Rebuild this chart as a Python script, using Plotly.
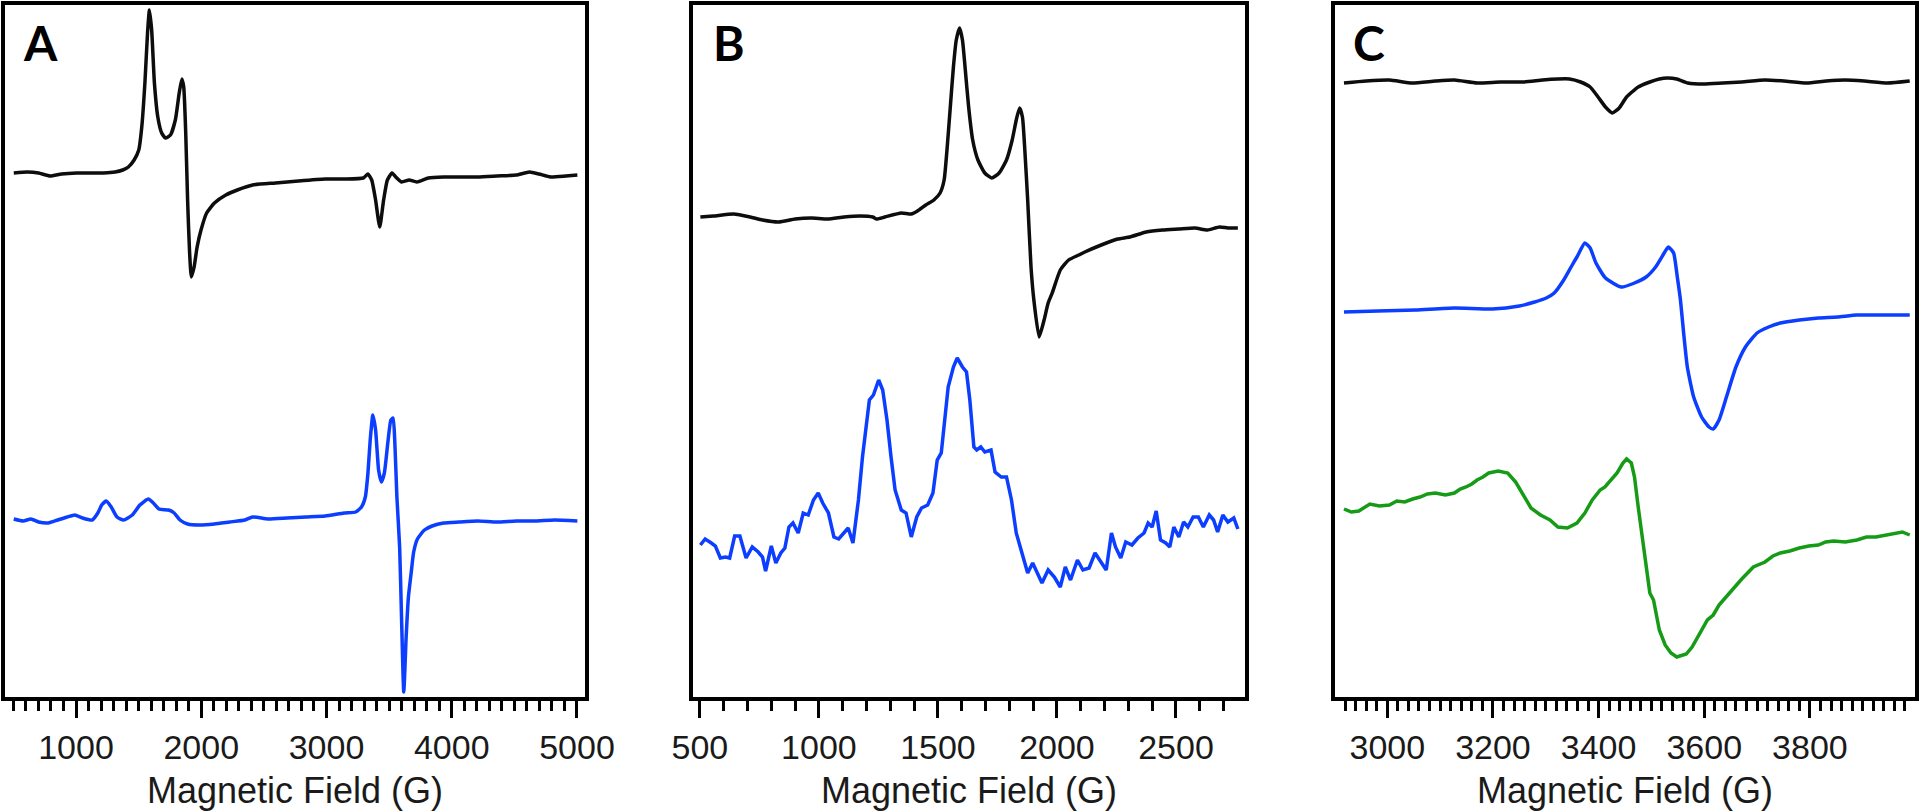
import plotly.graph_objects as go

# ---------------- Panel A (field in G, signal in arbitrary units) ----------------
a_black_field = [503, 610, 701, 793, 884, 1006, 1129, 1220, 1312, 1373, 1418, 1464, 1501, 1525,
                 1550, 1571, 1586, 1604, 1626, 1653, 1684, 1714, 1754, 1793, 1824, 1845, 1860,
                 1876, 1891, 1906, 1921, 1943, 1967, 1998, 2043, 2105, 2196, 2288, 2410, 2593,
                 2776, 2989, 3141, 3294, 3331, 3361, 3392, 3425, 3456, 3486, 3523, 3553, 3599,
                 3660, 3721, 3813, 3935, 4056, 4209, 4361, 4514, 4621, 4697, 4789, 4911, 5003]
a_black_signal = [524, 525, 524, 521, 523, 524, 524, 524, 525, 527, 530, 537, 547, 570,
                  614, 664, 687, 667, 614, 580, 564, 559, 562, 577, 604, 618, 610,
                  564, 497, 447, 420, 430, 450, 467, 484, 494, 502, 507, 512, 514,
                  516, 518, 518, 519, 523, 517, 497, 470, 497, 517, 524, 520, 515,
                  517, 515, 519, 520, 520, 520, 521, 522, 525, 523, 520, 521, 522]

a_blue_field = [503, 579, 640, 701, 778, 854, 930, 991, 1052, 1129, 1174, 1205, 1241, 1281,
                1327, 1379, 1449, 1510, 1577, 1617, 1662, 1739, 1784, 1830, 1891, 1983, 2105,
                2227, 2349, 2410, 2532, 2684, 2837, 2989, 3141, 3233, 3279, 3310, 3331, 3349,
                3370, 3392, 3416, 3438, 3462, 3492, 3514, 3532, 3547, 3562, 3584, 3599, 3617,
                3636, 3654, 3676, 3696, 3726, 3782, 3843, 3935, 4056, 4209, 4361, 4514, 4667,
                4820, 5003]
a_blue_signal = [178, 176, 178, 175, 174, 177, 180, 182, 179, 177, 184, 192, 196, 190,
                 180, 177, 182, 192, 198, 194, 188, 187, 184, 177, 173, 172, 173,
                 175, 177, 180, 178, 179, 180, 181, 184, 185, 190, 200, 224, 257,
                 282, 267, 227, 215, 224, 257, 277, 279, 250, 200, 150, 80, 5,
                 60, 100, 124, 145, 158, 167, 171, 174, 175, 176, 175, 176, 176,
                 177, 176]

# ---------------- Panel B ----------------
b_black_field = [502, 557, 642, 711, 763, 831, 900, 968, 1037, 1106, 1174, 1226, 1243, 1277,
                 1346, 1388, 1414, 1449, 1483, 1509, 1526, 1538, 1551, 1565, 1577, 1591, 1603,
                 1615, 1629, 1646, 1668, 1697, 1726, 1757, 1788, 1812, 1829, 1843, 1855, 1865,
                 1877, 1891, 1903, 1925, 1946, 1963, 1980, 2014, 2049, 2092, 2117, 2186, 2255,
                 2306, 2375, 2444, 2512, 2580, 2632, 2683, 2718, 2760]
b_black_signal = [480, 481, 483, 480, 477, 475, 478, 479, 478, 480, 481, 480, 478, 480,
                  484, 483, 486, 492, 497, 504, 517, 547, 587, 630, 657, 669, 657,
                  627, 590, 557, 537, 524, 519, 524, 537, 557, 577, 589, 580, 547,
                  497, 430, 397, 360, 377, 394, 404, 427, 437, 442, 445, 452, 458,
                  460, 465, 467, 468, 469, 467, 470, 469, 469]

b_blue_field = [502, 522, 548, 565, 586, 608, 625, 646, 668, 694, 720, 745, 763, 776, 800,
                819, 840, 857, 874, 891, 913, 934, 955, 977, 997, 1016, 1040, 1063, 1083,
                1106, 1123, 1143, 1166, 1183, 1200, 1212, 1229, 1251, 1268, 1286, 1303, 1320,
                1346, 1366, 1388, 1411, 1431, 1457, 1479, 1497, 1514, 1526, 1543, 1565, 1581,
                1603, 1620, 1634, 1651, 1663, 1680, 1697, 1723, 1740, 1766, 1788, 1809, 1829,
                1852, 1877, 1898, 1915, 1937, 1963, 1989, 2014, 2035, 2057, 2086, 2109, 2135,
                2160, 2186, 2207, 2229, 2246, 2268, 2289, 2315, 2340, 2366, 2383, 2400, 2417,
                2435, 2457, 2474, 2491, 2512, 2532, 2550, 2572, 2594, 2615, 2640, 2658, 2675,
                2697, 2718, 2743, 2760]
b_blue_signal = [152, 158, 154, 151, 139, 140, 139, 161, 161, 139, 150, 145, 140, 126, 151,
                 134, 144, 149, 170, 174, 164, 184, 182, 197, 204, 194, 184, 160, 158,
                 164, 169, 154, 197, 240, 270, 297, 302, 317, 307, 277, 240, 207,
                 187, 184, 160, 180, 189, 192, 204, 237, 244, 270, 310, 330, 339,
                 330, 325, 297, 250, 247, 250, 245, 247, 225, 220, 220, 197, 164,
                 144, 124, 134, 125, 114, 127, 120, 110, 130, 117, 137, 127, 129,
                 144, 135, 127, 164, 150, 139, 155, 152, 159, 164, 174, 170, 186,
                 157, 154, 150, 170, 160, 175, 170, 180, 180, 170, 182, 177, 165,
                 182, 175, 179, 168]

# ---------------- Panel C ----------------
c_black_field = [2918, 2960, 3004, 3047, 3091, 3127, 3170, 3214, 3258, 3294, 3323, 3345, 3366,
                 3384, 3399, 3413, 3426, 3439, 3453, 3475, 3497, 3515, 3530, 3548, 3569, 3599,
                 3635, 3671, 3715, 3751, 3794, 3831, 3867, 3903, 3947, 3989]
c_black_signal = [614, 616, 617, 614, 616, 617, 614, 615, 615, 617, 618, 618, 615,
                  610, 600, 590, 584, 589, 600, 610, 615, 618, 619, 618, 614, 613,
                  614, 615, 617, 616, 614, 616, 617, 616, 614, 616]

c_blue_field = [2918, 2982, 3054, 3127, 3199, 3250, 3279, 3301, 3316, 3334, 3348, 3359, 3374,
                3384, 3395, 3413, 3443, 3468, 3490, 3508, 3522, 3532, 3542, 3549, 3555, 3561,
                3568, 3580, 3595, 3609, 3617, 3628, 3642, 3660, 3678, 3700, 3722, 3744, 3780,
                3816, 3852, 3889, 3932, 3989]
c_blue_signal = [385, 386, 387, 389, 388, 391, 395, 399, 404, 417, 430, 440, 454,
                 449, 434, 419, 410, 414, 420, 430, 442, 450, 444, 420, 397, 364,
                 330, 300, 280, 270, 268, 277, 300, 330, 350, 364, 370, 374, 377,
                 379, 380, 382, 382, 382]

c_green_field = [2918, 2932, 2946, 2957, 2967, 2985, 3004, 3018, 3033, 3048, 3062, 3076, 3091,
                 3110, 3127, 3138, 3149, 3160, 3170, 3181, 3192, 3210, 3228, 3243, 3258, 3272,
                 3290, 3308, 3323, 3341, 3359, 3374, 3388, 3403, 3412, 3421, 3435, 3446, 3453,
                 3462, 3468, 3475, 3486, 3497, 3504, 3515, 3526, 3537, 3548, 3566, 3577, 3588,
                 3606, 3617, 3628, 3638, 3649, 3660, 3671, 3682, 3693, 3715, 3730, 3744, 3762,
                 3780, 3798, 3816, 3830, 3845, 3867, 3889, 3907, 3925, 3943, 3961, 3975, 3989]
c_green_signal = [188, 185, 186, 190, 193, 191, 192, 196, 195, 198, 200, 203, 204,
                  202, 204, 208, 210, 213, 217, 220, 224, 226, 224, 215, 202, 189,
                  182, 177, 170, 169, 174, 184, 197, 207, 210, 215, 224, 234, 238,
                  234, 220, 190, 147, 104, 97, 67, 52, 44, 40, 43, 50, 60,
                  77, 82, 92, 98, 105, 112, 118, 124, 130, 135, 141, 144, 146,
                  149, 151, 152, 155, 156, 155, 157, 160, 160, 162, 164, 165, 162]

# ---------------- Axis labels ----------------
a_ticks = [1000, 2000, 3000, 4000, 5000]
b_ticks = [500, 1000, 1500, 2000, 2500]
c_ticks = [3000, 3200, 3400, 3600, 3800]
panel_letters = ["A", "B", "C"]
x_title = "Magnetic Field (G)"

BLACK = "#0d0d0d"
BLUE = "rgb(12, 62, 255)"
GREEN = "rgb(22, 155, 22)"

fig = go.Figure()

def add(xs, ys, color, ax, smooth=True, width=3.5):
    line = dict(color=color, width=width)
    if smooth:
        line.update(shape="spline", smoothing=0.5)
    fig.add_trace(go.Scatter(x=xs, y=ys, mode="lines", line=line,
                             xaxis="x" + ax, yaxis="y" + ax, showlegend=False,
                             hoverinfo="skip"))

add(a_black_field, a_black_signal, BLACK, "")
add(a_blue_field, a_blue_signal, BLUE, "")
add(b_black_field, b_black_signal, BLACK, "2")
add(b_blue_field, b_blue_signal, BLUE, "2", smooth=False)
add(c_black_field, c_black_signal, BLACK, "3")
add(c_blue_field, c_blue_signal, BLUE, "3")
add(c_green_field, c_green_signal, GREEN, "3", smooth=False)

W, H = 1920, 811
ydom = [1 - 697 / H, 1 - 5 / H]
tickfont = dict(family="Liberation Sans, Arial, sans-serif", size=34, color="#1a1a1a")


def xaxis(dom, rng, ticks, minor_dtick, anchor):
    return dict(domain=dom, range=rng, anchor=anchor, automargin=False,
                showline=True, linecolor="black", linewidth=3.5, mirror=True,
                showgrid=False, zeroline=False,
                ticks="outside", ticklen=17, tickwidth=3, tickcolor="black",
                tickvals=ticks, ticktext=[str(t) for t in ticks],
                tickfont=tickfont,
                minor=dict(ticks="outside", ticklen=10, tickwidth=2.5, tickcolor="black",
                           dtick=minor_dtick, tick0=0, showgrid=False),
                fixedrange=True)


def yaxis(anchor):
    return dict(domain=ydom, range=[0, 692], anchor=anchor, automargin=False,
                showline=True, linecolor="black", linewidth=3.5, mirror=True,
                showgrid=False, zeroline=False, ticks="", showticklabels=False,
                fixedrange=True)


doms = [[5 / W, 585 / W], [693 / W, 1245 / W], [1335 / W, 1915 / W]]

fig.update_layout(
    width=W, height=H,
    margin=dict(l=0, r=0, t=0, b=0, pad=0),
    paper_bgcolor="white", plot_bgcolor="white",
    xaxis=xaxis(doms[0], [433, 5064], a_ticks, 100, "y"),
    xaxis2=xaxis(doms[1], [471, 2790], b_ticks, 100, "y2"),
    xaxis3=xaxis(doms[2], [2901, 3999], c_ticks, 20, "y3"),
    yaxis=yaxis("x"),
    yaxis2=yaxis("x2"),
    yaxis3=yaxis("x3"),
)

letter_x = [21, 711, 1351]
annotations = []
for letter, lx in zip(panel_letters, letter_x):
    annotations.append(dict(text=letter, x=lx / W, y=1 - 43 / H, xref="paper", yref="paper",
                            xanchor="left", yanchor="middle", showarrow=False,
                            font=dict(family="Lato, Open Sans, sans-serif", size=48,
                                      color="black", weight="bold")))
for d in doms:
    annotations.append(dict(text=x_title, x=(d[0] + d[1]) / 2, y=1 - 790 / H,
                            xref="paper", yref="paper", xanchor="center", yanchor="middle",
                            showarrow=False,
                            font=dict(family="Liberation Sans, Arial, sans-serif", size=36,
                                      color="#1a1a1a")))
fig.update_layout(annotations=annotations)

fig.write_html("out.html", config={"displayModeBar": False},
               post_script="document.body.style.margin='0';")
